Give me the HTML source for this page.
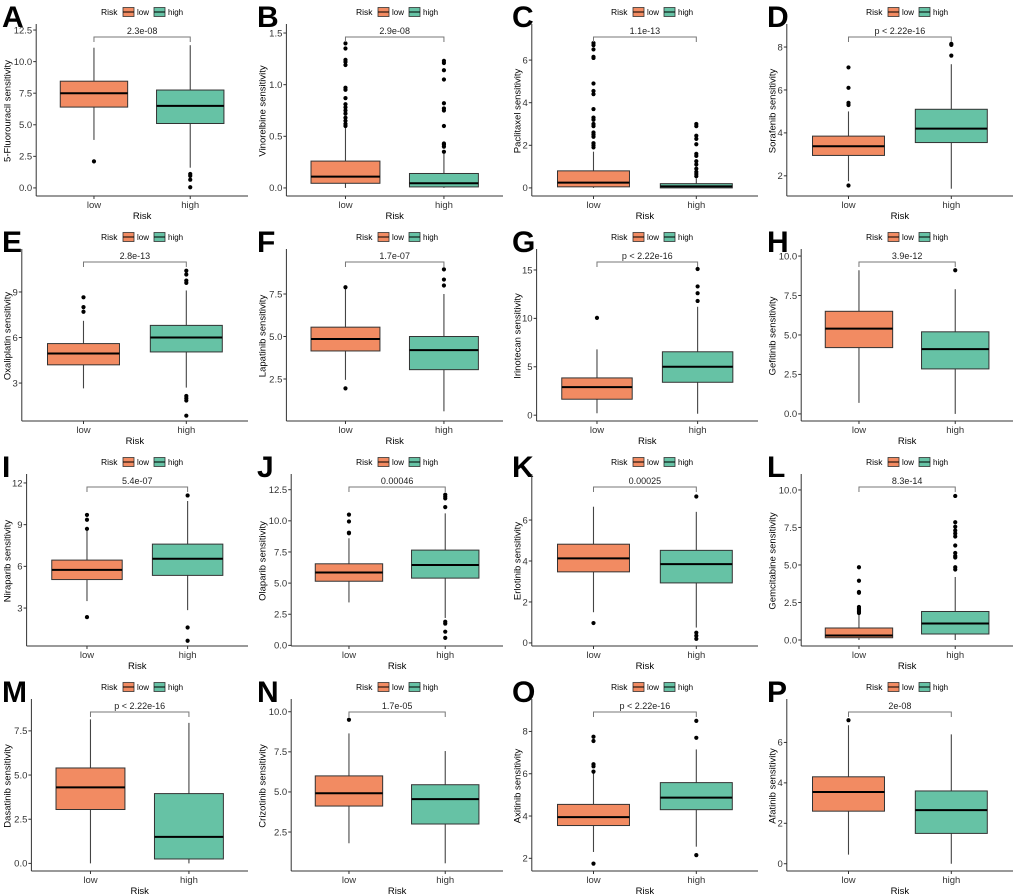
<!DOCTYPE html>
<html><head><meta charset="utf-8"><style>
html,body{margin:0;padding:0;background:#fff;}
svg{display:block;font-family:"Liberation Sans",Arial,sans-serif;}
</style></head><body>
<svg id="fig" width="1020" height="896" viewBox="0 0 1020 896" xmlns="http://www.w3.org/2000/svg"></svg>
<script>
const letters=["A","B","C","D","E","F","G","H","I","J","K","L","M","N","O","P"];
const yTitles=["5-Fluorouracil sensitivity","Vinorelbine sensitivity","Paclitaxel sensitivity","Sorafenib sensitivity","Oxaliplatin sensitivity","Lapatinib sensitivity","Irinotecan sensitivity","Gefitinib sensitivity","Niraparib sensitivity","Olaparib sensitivity","Erlotinib sensitivity","Gemcitabine sensitivity","Dasatinib sensitivity","Crizotinib sensitivity","Axitinib sensitivity","Afatinib sensitivity"];
const pLabels=["2.3e-08","2.9e-08","1.1e-13","p < 2.22e-16","2.8e-13","1.7e-07","p < 2.22e-16","3.9e-12","5.4e-07","0.00046","0.00025","8.3e-14","p < 2.22e-16","1.7e-05","p < 2.22e-16","2e-08"];
const categories=["low","high"];
const yTicks=[[0,2.5,5,7.5,10,12.5],[0,0.5,1,1.5],[0,2,4,6],[2,4,6,8],[3,6,9],[2.5,5,7.5],[0,5,10,15],[0,2.5,5,7.5,10],[3,6,9,12],[0,2.5,5,7.5,10,12.5],[0,2,4,6],[0,2.5,5,7.5,10],[0,2.5,5,7.5],[2.5,5,7.5,10],[2,4,6,8],[0,2,4,6]];
const yTickLabels=[["0.0","2.5","5.0","7.5","10.0","12.5"],["0.0","0.5","1.0","1.5"],["0","2","4","6"],["2","4","6","8"],["3","6","9"],["2.5","5.0","7.5"],["0","5","10","15"],["0.0","2.5","5.0","7.5","10.0"],["3","6","9","12"],["0.0","2.5","5.0","7.5","10.0","12.5"],["0","2","4","6"],["0.0","2.5","5.0","7.5","10.0"],["0.0","2.5","5.0","7.5"],["2.5","5.0","7.5","10.0"],["2","4","6","8"],["0","2","4","6"]];
const yDomains=[[-0.64,12.82],[-0.078,1.568],[-0.38,7.6],[1.06,8.98],[0.5,11.7],[0.03,10.03],[-0.6,16.96],[-0.45,10.32],[0.27,12.5],[-0.05,13.6],[-0.15,8.15],[-0.4,10.93],[-0.43,9.19],[0.07,10.67],[1.4,9.44],[-0.36,8.05]];
// [whiskerLow, q1, median, q3, whiskerHigh]
const lowStats=[[3.8,6.4,7.5,8.45,11.1],[0,0.045,0.11,0.26,0.58],[0,0.05,0.25,0.8,1.7],[1.75,2.95,3.38,3.85,5.0],[2.65,4.2,4.95,5.6,7.1],[2.45,4.15,4.85,5.55,7.8],[0.2,1.65,2.9,3.85,6.8],[0.7,4.2,5.4,6.5,9.1],[3.5,5.05,5.75,6.45,8.6],[3.45,5.15,5.85,6.55,8.6],[1.5,3.47,4.13,4.82,6.65],[0,0.15,0.3,0.8,1.7],[0,3.05,4.3,5.4,8.15],[1.8,4.12,4.92,6.0,8.65],[2.3,3.55,3.95,4.55,6.05],[0.45,2.6,3.55,4.3,6.85]];
const highStats=[[1.6,5.1,6.5,7.75,11.3],[0,0.01,0.045,0.14,0.33],[0,0.0,0.07,0.2,0.45],[1.4,3.55,4.2,5.1,7.2],[2.7,5.05,6.0,6.8,9.1],[0.6,3.05,4.2,5.0,7.5],[0.15,3.4,5.0,6.55,11.2],[0,2.85,4.1,5.2,7.9],[2.85,5.35,6.55,7.6,10.7],[2.2,5.4,6.45,7.65,10.6],[0.75,2.93,3.85,4.52,6.4],[0,0.4,1.1,1.9,4.2],[0,0.25,1.5,3.95,7.95],[0.55,3.0,4.55,5.45,7.55],[2.55,4.3,4.87,5.58,7.15],[0,1.5,2.65,3.6,6.4]];
const lowOutliers=[[2.1],[0.6,0.62,0.65,0.68,0.72,0.75,0.78,0.81,0.87,0.95,0.97,1.19,1.22,1.24,1.35,1.4],[1.9,2.0,2.1,2.4,2.5,2.6,2.9,3.0,3.2,3.3,3.7,4.4,4.55,4.9,6.1,6.15,6.5,6.7,6.8],[1.55,5.3,5.4,6.1,7.05],[7.7,8.0,8.65],[1.95,7.9],[10.05],[],[2.35,8.7,9.35,9.7],[9.0,9.05,9.95,10.5],[0.97],[1.8,1.9,2.0,2.1,2.2,3.15,3.2,3.95,4.85],[],[9.5],[1.75,6.1,6.35,6.45,7.55,7.75],[7.1]];
const highOutliers=[[1.1,0.95,0.65,0.05],[0.35,0.4,0.42,0.43,0.6,0.75,0.77,0.82,1.05,1.14,1.21,1.23],[0.55,0.65,0.75,0.9,1.1,1.25,1.5,1.6,2.05,2.3,2.45,2.9,3.0],[7.6,8.1,8.15],[0.85,1.85,2.0,2.15,9.6,9.75,10.15,10.4],[8.0,8.35,8.95],[11.8,12.6,13.3,15.1],[9.1],[0.65,1.6,11.1],[0.6,1.1,1.75,1.9,11.1,11.8,11.95,12.1],[0.2,0.35,0.5,7.15],[4.7,4.85,5.5,5.6,5.8,6.3,6.9,7.1,7.3,7.55,7.85,9.6],[],[],[2.15,7.7,8.5],[]];

const NS="http://www.w3.org/2000/svg";
const svg=document.getElementById("fig");
const fills=["#F28B62","#66C2A5"];
function mk(tag,attrs,parent){const e=document.createElementNS(NS,tag);for(const k in attrs)e.setAttribute(k,attrs[k]);(parent||svg).appendChild(e);return e;}
const colX=[0,255,510,765], rowY=[0,225,450,675];
for(let i=0;i<16;i++){
  const ox=colX[i%4], oy=rowY[Math.floor(i/4)];
  const g=mk("g",{transform:`translate(${ox},${oy})`});
  
  
  const maxLen=Math.max(...yTickLabels[i].map(s=>s.length));
  const left=17+4.8*maxLen, right=248, bottom=196, top=26;
  const [lo,hi]=yDomains[i];
  const y=v=>bottom-(v-lo)/(hi-lo)*(bottom-top);
  const xw=(right-left)/2.2;
  const x=k=>left+xw*(0.6+k);
  const L=mk("text",{x:2,y:27,"font-size":30,"font-weight":"bold",fill:"#000"},g);L.textContent=letters[i];
  
  
  const lg=mk("g",{},g);
  
  
  const t0=mk("text",{x:101,y:15,"font-size":8.5,fill:"#000"},lg);t0.textContent="Risk";
  const lx=[123,154], tx=[137,168];
  for(let k=0;k<2;k++){
    const e=mk("g",{},lg);
    
    
    mk("rect",{x:lx[k],y:7.5,width:11,height:9,fill:fills[k],stroke:"#333","stroke-width":0.8},e);
    mk("line",{x1:lx[k],x2:lx[k]+11,y1:12,y2:12,stroke:"#000","stroke-width":1},e);
    const tt=mk("text",{x:tx[k],y:15,"font-size":8,fill:"#000"},e);tt.textContent=categories[k];
  }
  const ax=mk("g",{},g);
  
  
  mk("line",{x1:left,x2:left,y1:top-2,y2:bottom,stroke:"#333","stroke-width":1},ax);
  yTicks[i].forEach((v,j)=>{
    mk("line",{x1:left-3,x2:left,y1:y(v),y2:y(v),stroke:"#333","stroke-width":1},ax);
    const t=mk("text",{x:left-4,y:y(v)+3.3,"font-size":9.5,"text-anchor":"end",fill:"#333"},ax);t.textContent=yTickLabels[i][j];
    
    
  });
  const yt=mk("text",{x:0,y:0,"font-size":9.5,"text-anchor":"middle",fill:"#000",transform:`translate(${10.5},${(top+bottom)/2}) rotate(-90)`},g);yt.textContent=yTitles[i];
  
  
  const xa=mk("g",{},g);
  
  
  mk("line",{x1:left,x2:right,y1:bottom,y2:bottom,stroke:"#333","stroke-width":1},xa);
  categories.forEach((c,k)=>{
    mk("line",{x1:x(k),x2:x(k),y1:bottom,y2:bottom+3,stroke:"#333","stroke-width":1},xa);
    const t=mk("text",{x:x(k),y:bottom+12,"font-size":9.5,"text-anchor":"middle",fill:"#333"},xa);t.textContent=c;
  });
  const xt=mk("text",{x:(left+right)/2,y:bottom+23,"font-size":9.5,"text-anchor":"middle",fill:"#000"},g);xt.textContent="Risk";
  
  
  const stats=[lowStats[i],highStats[i]], outs=[lowOutliers[i],highOutliers[i]];
  const bw=xw*0.7;
  for(let k=0;k<2;k++){
    const s=stats[k], cx=x(k);
    const b=mk("g",{},g);
    
    
    mk("line",{x1:cx,x2:cx,y1:y(s[0]),y2:y(s[4]),stroke:"#444","stroke-width":1.1},b);
    mk("rect",{x:cx-bw/2,y:y(s[3]),width:bw,height:Math.max(1,y(s[1])-y(s[3])),fill:fills[k],stroke:"#333","stroke-width":1},b);
    mk("line",{x1:cx-bw/2,x2:cx+bw/2,y1:y(s[2]),y2:y(s[2]),stroke:"#000","stroke-width":2},b);
    outs[k].forEach(v=>{
      const p=mk("circle",{cx:cx,cy:y(v),r:2.1,fill:"#000"},b);
      
      
    });
  }
  const br=mk("g",{},g);
  
  
  mk("path",{d:`M${x(0)},${42}V${37}H${x(1)}V${42}`,fill:"none",stroke:"#777","stroke-width":1},br);
  const pt=mk("text",{x:(x(0)+x(1))/2,y:34,"font-size":9,"text-anchor":"middle",fill:"#222"},br);pt.textContent=pLabels[i];
}
</script>
</body></html>
